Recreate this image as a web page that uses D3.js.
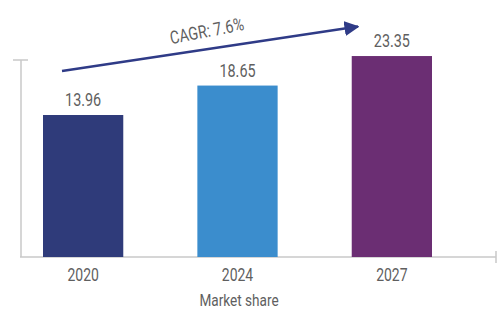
<!DOCTYPE html>
<html>
<head>
<meta charset="utf-8">
<script src="https://cdn.jsdelivr.net/npm/d3@7"></script>
<style>
    html, body { margin: 0; padding: 0; background: #fff; }
    svg text { font-family: Roboto, 'DejaVu Sans Condensed', sans-serif; fill: #5f5f5f; }
</style>
</head>
<body>
<svg id="chart" width="498" height="311"></svg>
<script>
    // data
    var years = ['2020', '2024', '2027'];
    var values = [13.96, 18.65, 23.35];
    var colors = ['#2f3b7a', '#3b8dcd', '#6b2e73'];
    var axisTitle = 'Market share';
    var cagrLabel = 'CAGR: 7.6%';

    var svg = d3.select('#chart');
    var baseY = 257;
    var narrow = 0.8; // the original uses a condensed face

    var x = d3.scaleBand()
        .domain(years)
        .range([43, 432])
        .paddingInner(0.48)
        .paddingOuter(0);

    // bars do not start at zero in the original
    var y = d3.scaleLinear()
        .domain([-8.65, 22.72])
        .range([baseY, 60]);

    function place(px, py, rot) {
        return 'translate(' + px + ',' + py + ')' + (rot ? ' rotate(' + rot + ')' : '') + ' scale(' + narrow + ',1)';
    }

    // axes
    svg.append('line')
        .attr('x1', 21).attr('x2', 21)
        .attr('y1', y(22.72)).attr('y2', baseY)
        .attr('stroke', '#c8c8c8').attr('stroke-width', 1.5);
    svg.append('line')
        .attr('x1', 13).attr('x2', 28)
        .attr('y1', y(22.72)).attr('y2', y(22.72))
        .attr('stroke', '#c8c8c8').attr('stroke-width', 1.5);
    svg.append('line')
        .attr('x1', 20).attr('x2', 496)
        .attr('y1', baseY).attr('y2', baseY)
        .attr('stroke', '#c8c8c8').attr('stroke-width', 1.5);
    svg.append('line')
        .attr('x1', 496).attr('x2', 496)
        .attr('y1', baseY - 6).attr('y2', baseY + 6)
        .attr('stroke', '#c8c8c8').attr('stroke-width', 1.5);

    // bars
    svg.selectAll('.bar')
        .data(values)
        .enter()
        .append('rect')
        .attr('class', 'bar')
        .attr('x', function (d, i) { return x(years[i]); })
        .attr('y', function (d) { return y(d); })
        .attr('width', x.bandwidth())
        .attr('height', function (d) { return baseY - y(d); })
        .attr('fill', function (d, i) { return colors[i]; });

    // value labels
    svg.selectAll('.val')
        .data(values)
        .enter()
        .append('text')
        .attr('class', 'val')
        .attr('transform', function (d, i) { return place(x(years[i]) + x.bandwidth() / 2, y(d) - 9); })
        .attr('text-anchor', 'middle')
        .style('font-size', '18px')
        .text(function (d) { return d.toFixed(2); });

    // category labels
    svg.selectAll('.cat')
        .data(years)
        .enter()
        .append('text')
        .attr('class', 'cat')
        .attr('transform', function (d) { return place(x(d) + x.bandwidth() / 2, 281); })
        .attr('text-anchor', 'middle')
        .style('font-size', '17.5px')
        .text(function (d) { return d; });

    svg.append('text')
        .attr('transform', place(239, 306))
        .attr('text-anchor', 'middle')
        .style('font-size', '17px')
        .text(axisTitle);

    // CAGR arrow
    var defs = svg.append('defs');
    defs.append('marker')
        .attr('id', 'arrow')
        .attr('viewBox', '0 0 10 10')
        .attr('refX', 9).attr('refY', 5)
        .attr('markerWidth', 6).attr('markerHeight', 6)
        .attr('markerUnits', 'strokeWidth')
        .attr('orient', 'auto')
        .append('path')
        .attr('d', 'M0,0 L10,5 L0,10 z')
        .attr('fill', '#2f3b87');

    var x0 = 62, y0 = 71, x1 = 362, y1 = 26;
    svg.append('line')
        .attr('x1', x0).attr('y1', y0)
        .attr('x2', x1 - 4).attr('y2', y1 + 0.6)
        .attr('stroke', '#2f3b87')
        .attr('stroke-width', 2.5)
        .attr('marker-end', 'url(#arrow)');

    svg.append('text')
        .attr('transform', place(208, 37, -11))
        .attr('text-anchor', 'middle')
        .style('font-size', '18px')
        .text(cagrLabel);
</script>
</body>
</html>
